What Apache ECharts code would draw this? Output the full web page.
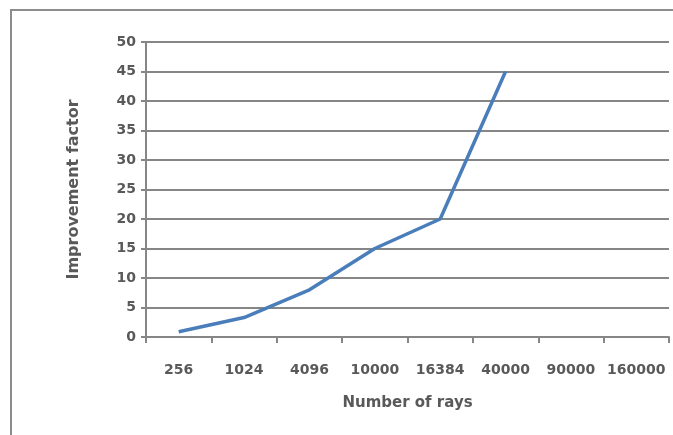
<!DOCTYPE html>
<html><head><meta charset="utf-8">
<script src="https://cdn.jsdelivr.net/npm/echarts@6/dist/echarts.min.js"></script>
<style>html,body{margin:0;padding:0;background:#fff}#c{width:673px;height:435px}</style>
</head><body><div id="c"></div>
<script>
const categories = ['256','1024','4096','10000','16384','40000','90000','160000'];
const improvement = [0.9, 3.3, 8, 15, 20, 45, null, null];
const yTicks = {min: 0, max: 50, interval: 5};

const chart = echarts.init(document.getElementById('c'));
const fontFam = '"DejaVu Sans", sans-serif';
const txt = '#595959';
const gridCol = '#868686';
chart.setOption({
  animation: false,
  graphic: [{
    type: 'rect', shape: {x: 11, y: 10, width: 900, height: 600},
    style: {fill: 'none', stroke: '#8c8c8c', lineWidth: 2}
  }],
  grid: {left: 146, right: 4, top: 42, bottom: 98},
  xAxis: {
    type: 'category', data: categories, boundaryGap: true,
    name: 'Number of rays', nameLocation: 'middle', nameGap: 59,
    nameTextStyle: {color: txt, fontFamily: fontFam, fontWeight: 'bold', fontSize: 15},
    axisLine: {lineStyle: {color: gridCol, width: 2}},
    axisTick: {show: true, length: 6, lineStyle: {color: gridCol, width: 2}},
    axisLabel: {color: txt, fontFamily: fontFam, fontWeight: 'bold', fontSize: 14, margin: 26, interval: 0}
  },
  yAxis: {
    type: 'value', min: yTicks.min, max: yTicks.max, interval: yTicks.interval,
    name: 'Improvement factor', nameLocation: 'middle', nameGap: 64, nameRotate: 90,
    nameTextStyle: {color: txt, fontFamily: fontFam, fontWeight: 'bold', fontSize: 16},
    axisLine: {show: true, lineStyle: {color: gridCol, width: 2}},
    axisTick: {show: true, length: 5, lineStyle: {color: gridCol, width: 2}},
    axisLabel: {color: txt, fontFamily: fontFam, fontWeight: 'bold', fontSize: 14, margin: 10},
    splitLine: {show: true, lineStyle: {color: gridCol, width: 2}}
  },
  series: [{
    type: 'line', data: improvement, showSymbol: false, symbol: 'none',
    lineStyle: {color: '#4a7ebb', width: 3.5}, itemStyle: {color: '#4a7ebb'}
  }]
});
</script></body></html>
